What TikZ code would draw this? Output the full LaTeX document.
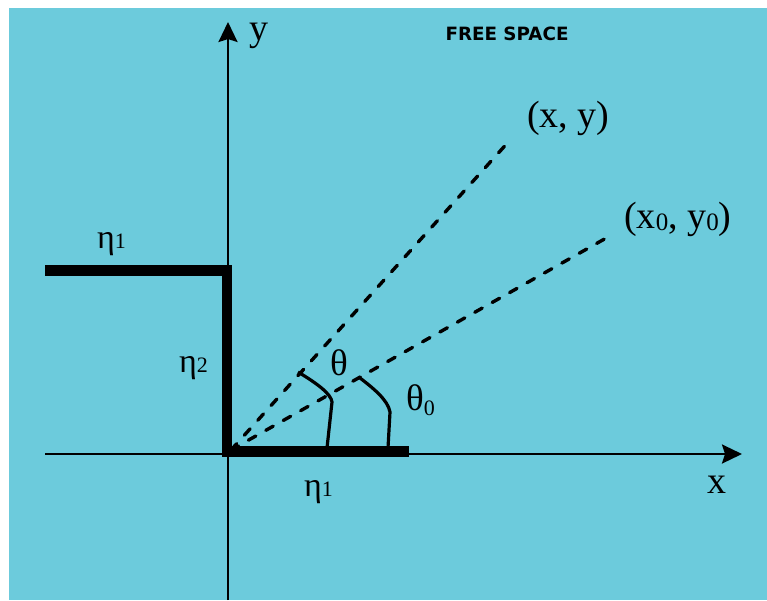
\documentclass[tikz,border=0pt]{standalone}
\usepackage{fontspec}
\setmainfont{Liberation Serif}
\newfontfamily\labelsans{DejaVu Sans}
\usetikzlibrary{arrows.meta}
\definecolor{bgblue}{RGB}{108,203,220}
\tikzset{
  axisline/.style={line width=2.6pt,-{Stealth[length=20pt,width=19pt,inset=3pt]}},
  wall/.style={line width=10.8pt,line join=miter},
  ray/.style={line width=3.4pt,line cap=round,dash pattern=on 8.5pt off 11.5pt},
  anglemark/.style={line width=3.2pt},
  lbl/.style={inner sep=0pt,anchor=base west,font=\fontsize{38}{40}\selectfont},
  glbl/.style={inner sep=0pt,anchor=base west,font=\fontsize{34}{36}\selectfont},
  thlbl/.style={inner sep=0pt,anchor=base west,font=\fontsize{37}{38}\selectfont},
}
\newcommand{\subsc}[1]{{\fontsize{22}{24}\selectfont #1}}
\newcommand{\subsl}[1]{{\fontsize{25}{26}\selectfont #1}}
\begin{document}
\begin{tikzpicture}[x=1pt,y=-1pt]
\useasboundingbox (0,0) rectangle (767,600);
\fill[white] (0,0) rectangle (767,600);
\fill[bgblue] (9,8) rectangle (767,600);
% coordinates
\coordinate (O) at (228,454);
\coordinate (xstart) at (45,454);
\coordinate (xend) at (742,454);
\coordinate (ystart) at (228,600);
\coordinate (yend) at (228,22);
\coordinate (R) at (231,450);
\coordinate (P) at (511,139);
\coordinate (P0) at (608,237);
% axes
\draw[axisline] (xstart) -- (xend);
\draw[axisline] (ystart) -- (yend);
% wall
\draw[wall] (45,270.5) -- (227,270.5) -- (227,451.5) -- (409,451.5);
% rays
\draw[ray] (R) -- (P);
\draw[ray] (R) -- (P0);
% angle marks
\draw[anglemark] (298,372) .. controls (318,384) and (331,394) .. (332,402) -- (327,448);
\draw[anglemark] (360,378) .. controls (373,388) and (388,400) .. (390,412) -- (388,448);
% labels
\node[inner sep=0pt,font=\labelsans\bfseries\fontsize{18.3}{20}\selectfont] (free) at (507,34) {FREE SPACE};
\node[lbl] (ylab) at (249,40) {y};
\node[lbl] (xlab) at (707,493) {x};
\node[lbl] (Plab) at (527,127) {(x, y)};
\node[lbl] (P0lab) at (624,228) {(x\raisebox{-2pt}{\subsl{0}}, y\raisebox{-2pt}{\subsl{0}})};
\node[glbl] (eta1a) at (97,248) {η\subsc{1}};
\node[glbl] (eta2) at (179,372) {η\subsc{2}};
\node[glbl] (eta1b) at (304,496) {η\subsc{1}};
\node[thlbl] (th) at (330,375) {θ};
\node[thlbl] (th0) at (406,410) {θ\raisebox{-5pt}{\subsc{0}}};
\end{tikzpicture}
\end{document}
